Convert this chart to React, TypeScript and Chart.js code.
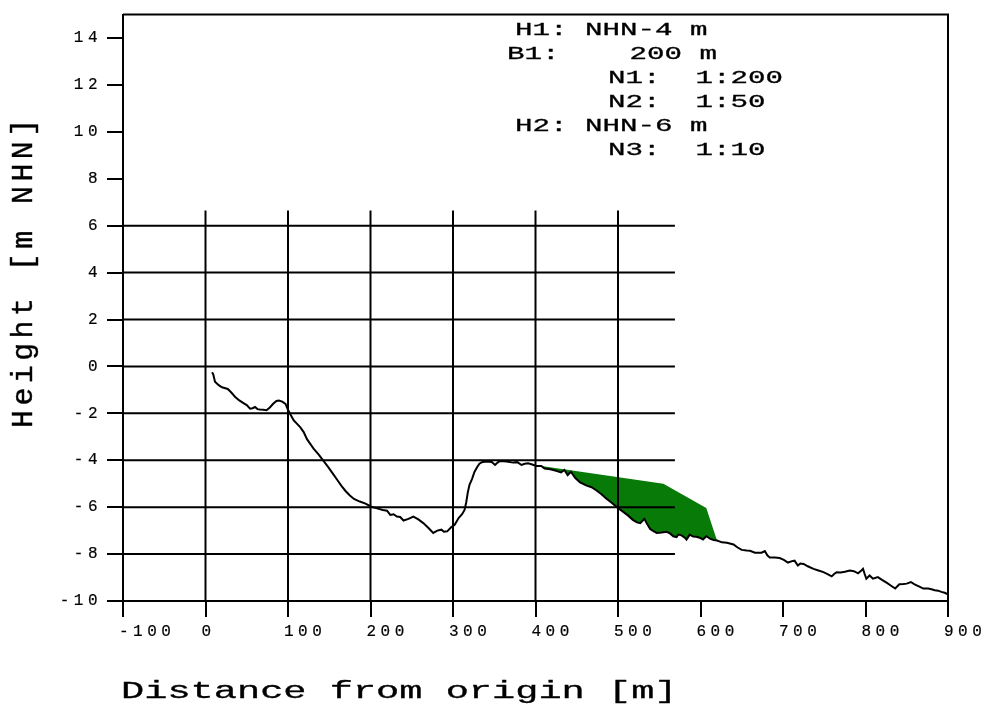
import React, { useEffect, useRef } from 'react';
import { Chart, registerables } from 'chart.js';

Chart.register(...registerables);

// ---- data ----
const profileX = [
  8, 9.5, 11.5, 16, 20, 27, 31, 36, 41, 46, 50, 54, 57, 60, 63, 66, 70, 74, 78, 82, 86, 89, 93, 97,
  100, 103, 107, 111, 115, 119, 123, 127, 131, 137, 143, 149, 155, 160, 165, 170, 175, 180, 187, 194,
  201, 208, 215, 220, 224, 228, 232, 236, 240, 246, 252, 258, 264, 270, 276, 281, 286, 289, 293, 298,
  302, 307, 311, 314, 316, 318, 320, 323, 326, 329, 332, 335, 340, 347, 351, 354, 357, 365, 373, 378,
  383, 387, 391, 396, 401, 407, 411, 418, 425, 431, 435, 439, 443, 448, 454, 462, 468, 474, 480, 486,
  492, 498, 506, 512, 518, 523, 527, 532, 535, 539, 543, 547, 553, 559, 563, 567, 571, 573, 577, 581,
  583, 587, 591, 595, 599, 603, 607, 612, 616, 620, 626, 632, 640, 645, 650, 656, 660, 666, 674, 678,
  681, 684, 690, 696, 701, 706, 711, 714, 718, 721, 725, 730, 737, 743, 749, 754, 759, 762, 765, 770,
  775, 781, 786, 791, 795, 797, 799, 801, 805, 809, 815, 820, 826, 831, 836, 841, 846, 850, 855, 859,
  862, 866, 870, 876, 880, 884, 888, 892, 896, 900,
];
const profileY = [
  -0.25, -0.35, -0.65, -0.8, -0.89, -0.96, -1.1, -1.3, -1.45, -1.56, -1.65, -1.8, -1.78, -1.73, -1.82, -1.84, -1.85, -1.87, -1.75, -1.59, -1.47, -1.45, -1.5, -1.6,
  -1.85, -2.05, -2.3, -2.45, -2.6, -2.8, -3.1, -3.3, -3.5, -3.75, -4.03, -4.3, -4.6, -4.85, -5.1, -5.32, -5.5, -5.65, -5.76, -5.85,
  -5.98, -6.05, -6.12, -6.15, -6.33, -6.3, -6.4, -6.42, -6.57, -6.5, -6.4, -6.52, -6.68, -6.88, -7.1, -7.0, -6.96, -7.05, -7.03, -6.85,
  -6.75, -6.45, -6.3, -6.12, -5.8, -5.36, -5.05, -4.8, -4.5, -4.31, -4.15, -4.08, -4.05, -4.07, -4.2, -4.1, -4.03, -4.05, -4.1, -4.08,
  -4.2, -4.15, -4.13, -4.18, -4.24, -4.24, -4.35, -4.38, -4.45, -4.52, -4.41, -4.63, -4.49, -4.75, -4.94, -5.08, -5.15, -5.29, -5.45, -5.64,
  -5.8, -5.98, -6.19, -6.35, -6.54, -6.65, -6.68, -6.5, -6.7, -6.93, -7.02, -7.1, -7.08, -7.05, -7.12, -7.24, -7.28, -7.17, -7.2, -7.3,
  -7.38, -7.17, -7.25, -7.26, -7.3, -7.38, -7.24, -7.35, -7.4, -7.42, -7.5, -7.52, -7.59, -7.72, -7.82, -7.85, -7.86, -7.94, -7.94, -7.87,
  -8.05, -8.15, -8.15, -8.17, -8.25, -8.36, -8.3, -8.28, -8.49, -8.4, -8.42, -8.52, -8.63, -8.7, -8.77, -8.85, -8.95, -8.85, -8.77, -8.78,
  -8.75, -8.7, -8.73, -8.82, -8.7, -8.63, -8.85, -9.05, -8.91, -9.05, -8.98, -9.1, -9.23, -9.35, -9.47, -9.29, -9.28, -9.26, -9.19, -9.28,
  -9.33, -9.4, -9.47, -9.47, -9.5, -9.54, -9.56, -9.61, -9.65, -9.72,
];

// nourishment (green) upper contour, ends on the profile
const fillTopX = [407, 555, 607, 620];
const fillTopY = [-4.24, -5.0, -6.03, -7.42];

// axes
const xMin = -100;
const xMax = 900;
const xStep = 100;
const yMin = -10;
const yMax = 15;
const yStep = 2;
// extent of the inner grid (data units)
const gridXLast = 500;
const gridXRight = 569;
const gridYLast = 6;
const gridYTop = 6.65;

const xTitle = 'Distance from origin [m]';
const yTitle = 'Height [m NHN]';
const infoLines = ['H1: NHN-4 m', 'B1:    200 m', 'N1:  1:200', 'N2:  1:50', 'H2: NHN-6 m', 'N3:  1:10'];
const infoX = [515, 507, 608, 608, 515, 608];

const MONO = "'Liberation Mono', 'DejaVu Sans Mono', monospace";

function stretchedText(ctx: CanvasRenderingContext2D, text: string, x: number, y: number, size: number, sx: number) {
  ctx.save();
  (ctx as any).letterSpacing = '0px';
  ctx.font = `${size}px ${MONO}`;
  ctx.fillStyle = '#000';
  ctx.strokeStyle = '#000';
  ctx.lineWidth = 0.3;
  ctx.textAlign = 'left';
  ctx.textBaseline = 'alphabetic';
  ctx.translate(x, y);
  ctx.scale(sx, 1);
  ctx.fillText(text, 0, 0);
  ctx.strokeText(text, 0, 0);
  ctx.restore();
}

const decorPlugin = {
  id: 'decor',
  beforeDraw(chart: any) {
    (chart.ctx as any).letterSpacing = '4.5px';
  },
  afterDatasetsDraw(chart: any) {
    const { ctx, chartArea } = chart;
    const x = chart.scales.x;
    const y = chart.scales.y;
    ctx.save();
    ctx.strokeStyle = '#000';
    ctx.lineWidth = 2;
    ctx.beginPath();
    for (const t of x.ticks) {
      if (t.value > xMin && t.value <= gridXLast) {
        const px = x.getPixelForValue(t.value);
        ctx.moveTo(px, y.getPixelForValue(gridYTop));
        ctx.lineTo(px, chartArea.bottom);
      }
    }
    for (const t of y.ticks) {
      if (t.value > yMin && t.value <= gridYLast) {
        const py = y.getPixelForValue(t.value);
        ctx.moveTo(chartArea.left, py);
        ctx.lineTo(x.getPixelForValue(gridXRight), py);
      }
    }
    ctx.moveTo(chartArea.left, chartArea.top);
    ctx.lineTo(chartArea.right, chartArea.top);
    ctx.lineTo(chartArea.right, chartArea.bottom);
    ctx.stroke();
    ctx.restore();
  },
  afterDraw(chart: any) {
    const { ctx } = chart;
    // x title
    stretchedText(ctx, xTitle, 121, 698, 23, 1.68);
    // y title (rotated)
    ctx.save();
    (ctx as any).letterSpacing = '4.4px';
    ctx.font = `30px ${MONO}`;
    ctx.fillStyle = '#000';
    ctx.strokeStyle = '#000';
    ctx.lineWidth = 0.4;
    ctx.textAlign = 'left';
    ctx.textBaseline = 'alphabetic';
    ctx.translate(32, 428);
    ctx.rotate(-Math.PI / 2);
    ctx.fillText(yTitle, 0, 0);
    ctx.strokeText(yTitle, 0, 0);
    ctx.restore();
    // info block
    infoLines.forEach((line, i) => {
      stretchedText(ctx, line, infoX[i], 34.5 + i * 24, 18, 1.62);
    });
  },
};

export default function App() {
  const ref = useRef<HTMLCanvasElement | null>(null);
  useEffect(() => {
    if (!ref.current) return;
    const profile = profileX.map((v, i) => ({ x: v, y: profileY[i] }));
    const fillTop = fillTopX.map((v, i) => ({ x: v, y: fillTopY[i] }));
    const tickFont = { family: MONO, size: 16 };
    const chart = new Chart(ref.current, {
      type: 'line',
      data: {
        datasets: [
          {
            label: 'Profile',
            data: profile,
            borderColor: '#000',
            borderWidth: 2,
            pointRadius: 0,
            tension: 0,
            fill: false,
          },
          {
            label: 'Nourishment',
            data: fillTop,
            borderColor: 'rgba(0,0,0,0)',
            borderWidth: 0,
            backgroundColor: 'rgb(8,122,8)',
            pointRadius: 0,
            tension: 0,
            fill: 0,
          },
        ],
      },
      options: {
        responsive: false,
        maintainAspectRatio: false,
        animation: false,
        devicePixelRatio: 1,
        layout: { autoPadding: false, padding: { top: 5, right: 42, left: 0, bottom: 0 } },
        plugins: {
          legend: { display: false },
          tooltip: { enabled: false },
          title: { display: false },
        },
        scales: {
          x: {
            type: 'linear',
            min: xMin,
            max: xMax,
            ticks: {
              stepSize: xStep,
              includeBounds: false,
              autoSkip: false,
              maxRotation: 0,
              align: 'start',
              labelOffset: -4,
              padding: 5,
              color: '#000',
              textStrokeColor: '#000',
              textStrokeWidth: 0.2,
              font: tickFont,
            },
            grid: { display: true, drawOnChartArea: false, drawTicks: true, tickLength: 16, color: '#000', lineWidth: 2 },
            border: { display: true, color: '#000', width: 2 },
            afterFit: (s: any) => { s.height = 109; },
          },
          y: {
            type: 'linear',
            min: yMin,
            max: yMax,
            ticks: {
              stepSize: yStep,
              includeBounds: false,
              autoSkip: false,
              padding: 5,
              color: '#000',
              textStrokeColor: '#000',
              textStrokeWidth: 0.2,
              font: tickFont,
            },
            grid: { display: true, drawOnChartArea: false, drawTicks: true, tickLength: 16, color: '#000', lineWidth: 2 },
            border: { display: true, color: '#000', width: 2 },
            afterFit: (s: any) => { s.width = 123; },
          },
        },
      } as any,
      plugins: [decorPlugin],
    });
    return () => chart.destroy();
  }, []);
  return (
    <div style={{ position: 'absolute', left: 0, top: 0, width: 990, height: 710, background: '#fff' }}>
      <canvas ref={ref} width={990} height={710} />
    </div>
  );
}
